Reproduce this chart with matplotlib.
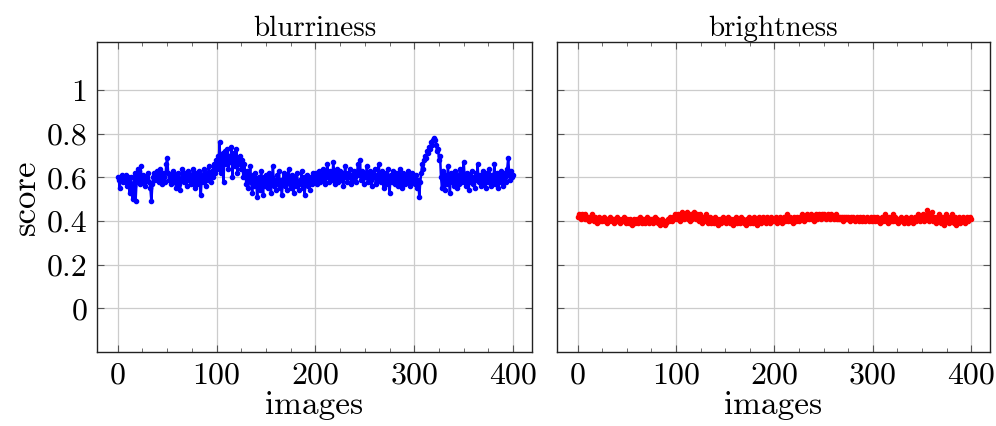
import matplotlib
matplotlib.use("Agg")
import matplotlib.pyplot as plt
import numpy as np

blur = [
0.60,0.59,0.55,0.60,0.61,0.58,0.60,0.59,0.61,0.56,0.60,0.58,0.53,0.60,0.57,0.50,0.56,0.62,0.49,0.58,0.64,0.63,0.57,0.65,0.60,
0.58,0.61,0.59,0.56,0.60,0.59,0.62,0.58,0.55,0.49,0.57,0.60,0.62,0.59,0.61,0.63,0.60,0.58,0.64,0.61,0.57,0.62,0.60,0.58,0.66,
0.69,0.62,0.59,0.61,0.57,0.60,0.63,0.58,0.61,0.55,0.60,0.62,0.57,0.54,0.59,0.64,0.61,0.58,0.62,0.60,0.56,0.63,0.59,0.61,0.57,
0.60,0.64,0.58,0.55,0.62,0.60,0.57,0.63,0.59,0.52,0.61,0.58,0.64,0.60,0.56,0.62,0.59,0.65,0.61,0.58,0.63,0.60,0.66,0.62,0.68,
0.64,0.70,0.66,0.76,0.62,0.69,0.71,0.58,0.72,0.66,0.68,0.73,0.64,0.70,0.67,0.74,0.60,0.69,0.71,0.65,0.73,0.62,0.68,0.66,0.70,
0.64,0.68,0.60,0.66,0.62,0.57,0.63,0.55,0.60,0.65,0.58,0.53,0.61,0.56,0.62,0.59,0.51,0.57,0.60,0.54,0.63,0.58,0.52,0.60,0.56,
0.61,0.57,0.55,0.62,0.58,0.53,0.60,0.65,0.56,0.59,0.54,0.61,0.57,0.63,0.55,0.59,0.52,0.58,0.62,0.56,0.60,0.54,0.59,0.64,0.57,
0.55,0.61,0.58,0.53,0.60,0.56,0.62,0.58,0.54,0.59,0.57,0.63,0.55,0.60,0.52,0.58,0.61,0.56,0.59,0.54,0.60,0.57,0.62,0.58,0.60,
0.59,0.62,0.57,0.60,0.63,0.58,0.61,0.59,0.64,0.60,0.57,0.62,0.66,0.60,0.58,0.63,0.61,0.59,0.67,0.62,0.57,0.60,0.64,0.58,0.61,
0.63,0.59,0.62,0.56,0.60,0.65,0.61,0.58,0.62,0.60,0.64,0.57,0.61,0.59,0.63,0.60,0.58,0.62,0.66,0.61,0.68,0.59,0.63,0.60,0.57,
0.62,0.60,0.65,0.58,0.61,0.63,0.59,0.56,0.62,0.60,0.64,0.57,0.61,0.59,0.66,0.60,0.58,0.63,0.61,0.55,0.60,0.62,0.57,0.64,0.59,
0.53,0.61,0.58,0.63,0.60,0.57,0.62,0.59,0.56,0.61,0.64,0.58,0.60,0.55,0.62,0.59,0.57,0.61,0.58,0.63,0.60,0.56,0.59,0.62,0.58,
0.60,0.57,0.61,0.55,0.59,0.51,0.58,0.62,0.66,0.64,0.68,0.70,0.69,0.72,0.71,0.74,0.73,0.76,0.75,0.77,0.78,0.77,0.75,0.72,0.73,
0.68,0.70,0.60,0.55,0.63,0.58,0.54,0.61,0.57,0.65,0.59,0.53,0.62,0.58,0.60,0.56,0.63,0.59,0.55,0.61,0.57,0.64,0.60,0.58,0.62,
0.67,0.59,0.56,0.62,0.60,0.54,0.61,0.58,0.63,0.57,0.60,0.55,0.62,0.59,0.66,0.58,0.61,0.56,0.60,0.63,0.57,0.61,0.55,0.59,0.62,
0.58,0.64,0.60,0.56,0.61,0.59,0.66,0.57,0.60,0.62,0.55,0.61,0.58,0.63,0.59,0.56,0.62,0.60,0.58,0.64,0.69,0.61,0.59,0.63,0.60,
0.61]

bright = [
0.42,0.43,0.42,0.41,0.43,0.42,0.42,0.41,0.43,0.42,0.41,0.42,0.40,0.42,0.41,0.43,0.41,0.40,0.42,0.41,0.39,0.41,0.42,0.40,0.41,
0.40,0.41,0.42,0.40,0.41,0.39,0.41,0.40,0.42,0.41,0.40,0.41,0.39,0.41,0.40,0.42,0.40,0.41,0.39,0.40,0.41,0.40,0.42,0.40,0.39,
0.41,0.40,0.39,0.41,0.40,0.38,0.40,0.41,0.39,0.40,0.41,0.39,0.40,0.42,0.40,0.39,0.41,0.40,0.39,0.41,0.40,0.42,0.40,0.39,0.41,
0.40,0.41,0.39,0.40,0.42,0.40,0.41,0.39,0.40,0.38,0.40,0.41,0.39,0.40,0.38,0.39,0.40,0.41,0.40,0.42,0.41,0.40,0.42,0.41,0.43,
0.42,0.41,0.43,0.42,0.40,0.42,0.44,0.42,0.41,0.43,0.42,0.44,0.41,0.42,0.40,0.43,0.41,0.42,0.44,0.42,0.41,0.43,0.42,0.40,0.43,
0.41,0.39,0.42,0.40,0.41,0.43,0.40,0.39,0.41,0.40,0.42,0.39,0.40,0.41,0.39,0.42,0.40,0.41,0.38,0.40,0.41,0.39,0.40,0.42,0.40,
0.41,0.39,0.40,0.42,0.40,0.39,0.41,0.40,0.38,0.41,0.40,0.42,0.39,0.41,0.40,0.39,0.42,0.40,0.41,0.39,0.40,0.38,0.41,0.40,0.42,
0.39,0.40,0.41,0.39,0.42,0.40,0.41,0.38,0.40,0.42,0.41,0.39,0.40,0.42,0.40,0.41,0.39,0.42,0.40,0.41,0.40,0.39,0.42,0.41,0.40,
0.41,0.40,0.42,0.39,0.41,0.40,0.42,0.41,0.39,0.41,0.42,0.40,0.41,0.43,0.40,0.41,0.42,0.40,0.41,0.39,0.42,0.41,0.40,0.42,0.41,
0.40,0.42,0.41,0.43,0.41,0.40,0.42,0.41,0.43,0.42,0.41,0.42,0.43,0.41,0.42,0.40,0.42,0.43,0.41,0.42,0.43,0.42,0.41,0.43,0.42,
0.43,0.42,0.41,0.42,0.43,0.42,0.41,0.42,0.43,0.42,0.42,0.41,0.42,0.43,0.41,0.42,0.41,0.42,0.41,0.42,0.40,0.42,0.41,0.42,0.41,
0.42,0.41,0.40,0.42,0.41,0.42,0.41,0.40,0.41,0.42,0.41,0.40,0.42,0.41,0.40,0.42,0.41,0.40,0.41,0.42,0.41,0.40,0.41,0.42,0.40,
0.41,0.42,0.40,0.41,0.42,0.40,0.41,0.39,0.41,0.42,0.40,0.41,0.43,0.40,0.41,0.39,0.42,0.41,0.40,0.41,0.43,0.40,0.41,0.42,0.40,
0.41,0.39,0.41,0.40,0.42,0.40,0.41,0.39,0.40,0.42,0.41,0.39,0.41,0.40,0.42,0.40,0.39,0.41,0.42,0.40,0.41,0.43,0.41,0.40,0.42,
0.41,0.43,0.40,0.42,0.41,0.45,0.42,0.40,0.43,0.41,0.44,0.40,0.42,0.41,0.39,0.42,0.40,0.43,0.41,0.39,0.42,0.40,0.38,0.41,0.43,
0.40,0.42,0.39,0.41,0.40,0.43,0.41,0.39,0.42,0.40,0.38,0.41,0.40,0.42,0.39,0.41,0.40,0.42,0.41,0.39,0.41,0.42,0.40,0.41,0.42,
0.41]

titles = ["blurriness", "brightness"]
colors = ["#0000ff", "#ff0000"]
xticks = [0, 100, 200, 300, 400]
yticks = [0, 0.2, 0.4, 0.6, 0.8, 1]
yticklabels = ["0", "0.2", "0.4", "0.6", "0.8", "1"]

plt.rcParams['font.family'] = ['cmr10', 'DejaVu Serif']
plt.rcParams['mathtext.fontset'] = 'cm'
plt.rcParams['axes.unicode_minus'] = False

fig = plt.figure(figsize=(9.96, 4.26), dpi=100)
ax1 = fig.add_axes([0.0974, 0.1737, 0.4367, 0.7277])
ax2 = fig.add_axes([0.5592, 0.1737, 0.4347, 0.7277])

for ax, data, title, c in zip([ax1, ax2], [blur, bright], titles, colors):
    x = np.arange(len(data))
    ax.plot(x, data, color=c, lw=1.8, marker='o', ms=3.0, mec=c, mfc=c)
    ax.set_xlim(-21, 419)
    ax.set_ylim(-0.2, 1.22)
    ax.set_xticks(xticks)
    ax.set_xticks(np.arange(0, 401, 25), minor=True)
    ax.set_yticks(yticks)
    ax.grid(True, which='major', color='#cccccc', lw=0.9)
    ax.set_axisbelow(True)
    ax.tick_params(direction='in', which='both', top=True, right=True,
                   labelsize=23, color='#555555')
    ax.tick_params(axis='x', pad=7)
    ax.tick_params(axis='y', pad=7)
    ax.tick_params(which='major', length=5)
    ax.tick_params(which='minor', length=3)
    ax.set_title(title, fontsize=21, pad=3)
    ax.set_xlabel("images", fontsize=24, labelpad=1)
    for s in ax.spines.values():
        s.set_linewidth(1.0)
        s.set_color('#222222')

ax1.set_yticklabels(yticklabels)
ax1.set_ylabel("score", fontsize=25, labelpad=3)
ax2.set_yticklabels([])

fig.savefig("out.png", dpi=100)
